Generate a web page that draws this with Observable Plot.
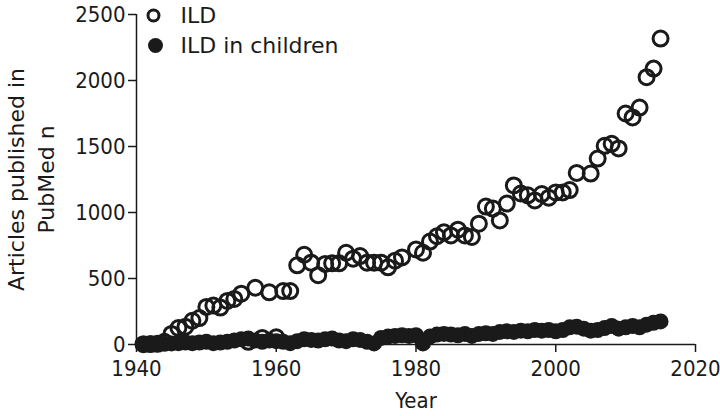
<!DOCTYPE html>
<html>
<head>
<meta charset="utf-8">
<script src="https://cdn.jsdelivr.net/npm/d3@7"></script>
<script src="https://cdn.jsdelivr.net/npm/@observablehq/plot@0.6"></script>
<style>
  body { margin: 0; background: #fff; }
  #chart { width: 720px; height: 416px; }
</style>
</head>
<body>
<div id="chart"></div>
<script>
// ILD articles per year (open circles)
const ildYears = [1941,1942,1943,1944,1945,1946,1947,1948,1949,1950,1951,1952,1953,1954,1955,1956,1957,1958,1959,1960,1961,1962,
  1963,1964,1965,1966,1967,1968,1969,1970,1971,1972,1973,1974,1975,1976,1977,1978,1980,1981,1982,1983,1984,1985,1986,1987,1988,1989,
  1990,1991,1992,1993,1994,1995,1996,1997,1998,1999,2000,2001,2002,2003,2005,2006,2007,2008,2009,2010,2011,2012,2013,2014,2015];
const ildCounts = [2,3,5,20,80,125,135,180,200,285,295,280,330,345,385,20,430,50,395,55,405,405,
  600,680,620,525,610,615,615,695,650,670,620,620,620,585,635,660,720,695,780,820,850,826,870,826,815,915,
  1045,1030,940,1068,1205,1144,1130,1091,1140,1112,1152,1152,1170,1300,1295,1409,1505,1520,1485,1750,1720,1795,2025,2090,2318];

// ILD in children articles per year (filled circles)
const childYears = [1941,1942,1943,1944,1945,1946,1947,1948,1949,1950,1951,1952,1953,1954,1955,1956,1957,1958,1959,1960,
  1961,1962,1963,1964,1965,1966,1967,1968,1969,1970,1971,1972,1973,1974,1975,1976,1977,1978,1979,1980,
  1981,1982,1983,1984,1985,1986,1987,1988,1989,1990,1991,1992,1993,1994,1995,1996,1997,1998,1999,2000,
  2001,2002,2003,2004,2005,2006,2007,2008,2009,2010,2011,2012,2013,2014,2015];
const childCounts = [0,0,2,5,8,10,15,10,15,20,10,15,20,30,40,45,30,20,30,25,
  20,10,25,40,35,30,40,45,30,25,40,35,20,8,50,60,65,70,65,70,
  8,60,75,80,75,70,80,65,80,85,80,95,100,95,105,100,110,105,110,100,
  110,130,135,120,105,110,125,140,120,130,140,130,150,165,175];

const seriesNames = ["ILD", "ILD in children"];
const xDomain = [1940, 2020];
const yDomain = [0, 2500];
const xTicks = [1940, 1960, 1980, 2000, 2020];
const yTicks = [0, 500, 1000, 1500, 2000, 2500];
const xLabel = "Year";
const yLabel = "Articles published in\nPubMed n";

const ild = ildYears.map((year, i) => ({year, count: ildCounts[i]}));
const child = childYears.map((year, i) => ({year, count: childCounts[i]}));

const ink = "#1a1a1a";
const condensed = "'DejaVu Sans Condensed', 'DejaVu Sans', sans-serif";
const regular = "'DejaVu Sans', sans-serif";

const chart = Plot.plot({
  width: 720,
  height: 416,
  marginLeft: 136,
  marginRight: 25,
  marginTop: 14,
  marginBottom: 72,
  style: {fontFamily: condensed, fontSize: "22px", color: ink, background: "#fff", overflow: "visible"},
  x: {domain: xDomain, label: null},
  y: {domain: yDomain, label: null},
  marks: [
    Plot.axisX({ticks: xTicks, tickFormat: d => String(d), tickSize: 8, tickPadding: 8, strokeWidth: 1.5, fontSize: 22, label: null}),
    Plot.axisY({ticks: yTicks, tickFormat: d => String(d), tickSize: 8, tickPadding: 3, strokeWidth: 1.5, fontSize: 22, label: null}),
    Plot.ruleY([yDomain[0]], {stroke: ink, strokeWidth: 1.5}),
    Plot.ruleX([xDomain[0]], {stroke: ink, strokeWidth: 1.5}),
    Plot.dot(ild, {x: "year", y: "count", r: 7.5, stroke: ink, strokeWidth: 3, fill: "none"}),
    Plot.dot(child, {x: "year", y: "count", r: 8, fill: ink, stroke: "none"}),
    // legend
    Plot.dot([seriesNames[0]], {frameAnchor: "top-left", dx: 17, dy: 1, r: 5.5, stroke: ink, strokeWidth: 3, fill: "none"}),
    Plot.dot([seriesNames[1]], {frameAnchor: "top-left", dx: 19, dy: 31, r: 7.5, fill: ink}),
    Plot.text([seriesNames[0]], {text: d => d, frameAnchor: "top-left", dx: 44, dy: 1, textAnchor: "start", lineAnchor: "middle", fontSize: 22, fontFamily: regular, fill: ink}),
    Plot.text([seriesNames[1]], {text: d => d, frameAnchor: "top-left", dx: 44, dy: 31, textAnchor: "start", lineAnchor: "middle", fontSize: 22, fontFamily: regular, fill: ink}),
    // axis titles
    Plot.text([xLabel], {text: d => d, frameAnchor: "bottom", dy: 56, lineAnchor: "middle", fontSize: 22, fill: ink}),
    Plot.text([yLabel], {text: d => d, frameAnchor: "left", rotate: -90, dx: -107, textAnchor: "middle", lineAnchor: "middle", lineHeight: 1.36, fontSize: 22, fontFamily: regular, fill: ink})
  ]
});

document.getElementById("chart").appendChild(chart);
</script>
</body>
</html>
